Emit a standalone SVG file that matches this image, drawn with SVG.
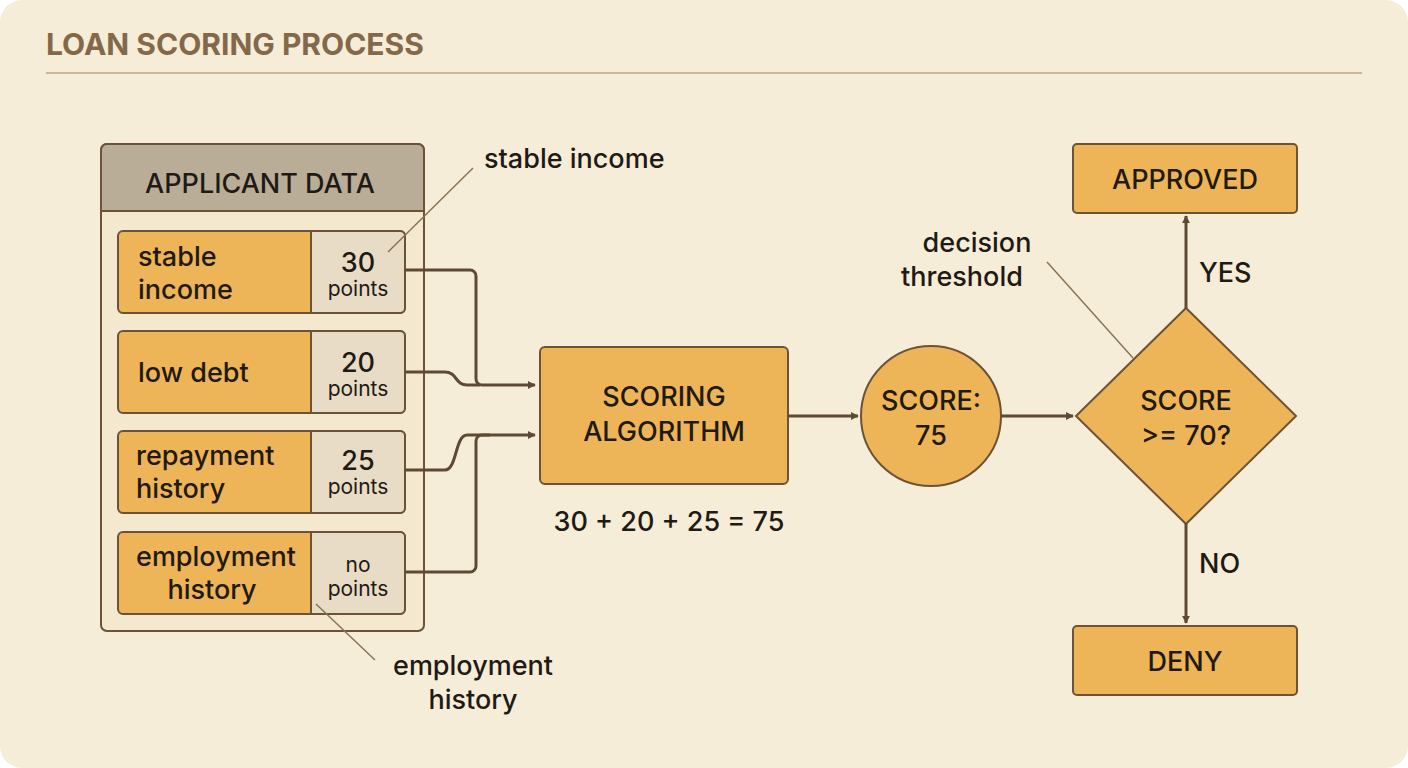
<svg xmlns="http://www.w3.org/2000/svg" width="1408" height="768" viewBox="0 0 1408 768">
<style>
text{font-family:"Inter","Liberation Sans",sans-serif;fill:#1f1a14}
.box{fill:#eeb458;stroke:#6b5238;stroke-width:2}
.pts{fill:#e8dcc6;stroke:#6b5238;stroke-width:2}
.c{fill:none;stroke:#5e4a34;stroke-width:3}
.lead{fill:none;stroke:#8a7356;stroke-width:1.5}
.t{font-size:27px;font-weight:500}
.s{font-size:21px}
</style>
<defs><marker id="a" viewBox="0 0 10 10" refX="9" refY="5" markerWidth="8" markerHeight="8" markerUnits="userSpaceOnUse" orient="auto"><path d="M0,0L10,5L0,10z" fill="#5e4a34"/></marker>
<marker id="b" viewBox="0 0 10 10" refX="9" refY="5" markerWidth="8" markerHeight="8" orient="auto"><path d="M0,0L10,5L0,10z" fill="#5e4a34"/></marker></defs>
<rect x="0" y="0" width="1408" height="768" rx="22" fill="#f6edd8"/>
<text x="46" y="55" style="font-size:30px;font-weight:700;fill:#84684a">LOAN SCORING PROCESS</text>
<line x1="46" y1="73" x2="1362" y2="73" stroke="#c9b79b" stroke-width="2"/>
<g id="applicant">
<rect x="101" y="144" width="323" height="487" rx="6" fill="#f4e8cf" stroke="#6b5238" stroke-width="2"/>
<path d="M101,211V150a6,6 0 0 1 6,-6H418a6,6 0 0 1 6,6V211z" fill="#b9ad98" stroke="#6b5238" stroke-width="2"/>
<text x="260" y="193" text-anchor="middle" class="t">APPLICANT DATA</text>
</g>
<g id="n1"><rect x="118" y="231" width="287" height="82" rx="5" class="box"/><path d="M311,231H400a5,5 0 0 1 5,5V308a5,5 0 0 1 -5,5H311z" class="pts"/>
<text x="138" y="266" class="t">stable</text><text x="138" y="299" class="t">income</text>
<text x="358" y="272" text-anchor="middle" class="t">30</text><text x="358" y="296" text-anchor="middle" class="s">points</text></g>
<g id="n2"><rect x="118" y="331" width="287" height="82" rx="5" class="box"/><path d="M311,331H400a5,5 0 0 1 5,5V408a5,5 0 0 1 -5,5H311z" class="pts"/>
<text x="138" y="382" class="t">low debt</text>
<text x="358" y="372" text-anchor="middle" class="t">20</text><text x="358" y="396" text-anchor="middle" class="s">points</text></g>
<g id="n3"><rect x="118" y="431" width="287" height="82" rx="5" class="box"/><path d="M311,431H400a5,5 0 0 1 5,5V508a5,5 0 0 1 -5,5H311z" class="pts"/>
<text x="136" y="465" class="t">repayment</text><text x="136" y="498" class="t">history</text>
<text x="358" y="470" text-anchor="middle" class="t">25</text><text x="358" y="494" text-anchor="middle" class="s">points</text></g>
<g id="n4"><rect x="118" y="532" width="287" height="82" rx="5" class="box"/><path d="M311,532H400a5,5 0 0 1 5,5V609a5,5 0 0 1 -5,5H311z" class="pts"/>
<text x="216" y="566" text-anchor="middle" class="t">employment</text><text x="212" y="599" text-anchor="middle" class="t">history</text>
<text x="358" y="572" text-anchor="middle" class="s">no</text><text x="358" y="596" text-anchor="middle" class="s">points</text></g>
<g id="alg"><rect x="540" y="347" width="248" height="137" rx="5" class="box"/>
<text x="664" y="406" text-anchor="middle" class="t">SCORING</text><text x="664" y="441" text-anchor="middle" class="t">ALGORITHM</text></g>
<text x="669" y="531" text-anchor="middle" class="t">30 + 20 + 25 = 75</text>
<g id="score"><circle cx="931" cy="416" r="70" class="box"/>
<text x="931" y="410" text-anchor="middle" class="t">SCORE:</text><text x="931" y="445" text-anchor="middle" class="t">75</text></g>
<g id="dec"><path d="M1186,308L1296,416L1186,524L1076,416z" class="box"/>
<text x="1186" y="410" text-anchor="middle" class="t">SCORE</text><text x="1186" y="445" text-anchor="middle" class="t">&gt;= 70?</text></g>
<g id="approved"><rect x="1073" y="144" width="224" height="69" rx="4" class="box"/><text x="1185" y="189" text-anchor="middle" class="t">APPROVED</text></g>
<g id="deny"><rect x="1073" y="626" width="224" height="69" rx="4" class="box"/><text x="1185" y="671" text-anchor="middle" class="t">DENY</text></g>
<g id="connectors">
<path class="c" marker-end="url(#a)" d="M405,270H470a6,6 0 0 1 6,6V379a6,6 0 0 0 6,6H535"/>
<path class="c" d="M405,372H445c12,0 10,13 22,13H480"/>
<path class="c" marker-end="url(#a)" d="M405,470H445c12,0 10,-35 22,-35H535"/>
<path class="c" d="M405,572H470a6,6 0 0 0 6,-6V441a6,6 0 0 1 6,-6H490"/>
<path class="c" marker-end="url(#a)" d="M788,416H858"/>
<path class="c" marker-end="url(#a)" d="M1001,416H1073"/>
<path class="c" marker-end="url(#a)" d="M1186,308V216"/>
<path class="c" marker-end="url(#a)" d="M1186,524V623"/>
<path class="lead" d="M388,252L473,168"/>
<path class="lead" d="M316,604L375,660"/>
<path class="lead" d="M1133,358L1047,262"/>
</g>
<text x="484" y="168" class="t">stable income</text>
<text x="473" y="675" text-anchor="middle" class="t">employment</text><text x="473" y="709" text-anchor="middle" class="t">history</text>
<text x="977" y="252" text-anchor="middle" class="t">decision</text><text x="962" y="286" text-anchor="middle" class="t">threshold</text>
<text x="1199" y="282" class="t">YES</text>
<text x="1199" y="573" class="t">NO</text>
</svg>
